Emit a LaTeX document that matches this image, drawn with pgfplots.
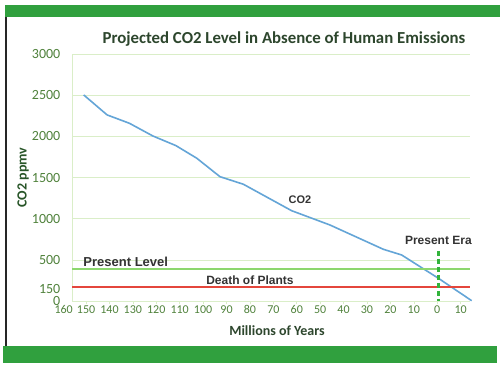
\documentclass[border=0pt]{standalone}
\usepackage{fontspec}
\setmainfont{Carlito}
\newfontfamily\arialfont{Liberation Sans}
\usepackage{pgfplots}
\pgfplotsset{compat=1.18}
\definecolor{barg}{RGB}{48,160,62}
\definecolor{gridg}{RGB}{218,238,200}
\definecolor{tickg}{RGB}{80,130,60}
\definecolor{titleg}{RGB}{45,70,45}
\definecolor{labg}{RGB}{40,85,40}
\definecolor{co2blue}{RGB}{100,165,215}
\definecolor{presentgreen}{RGB}{140,215,110}
\definecolor{deathred}{RGB}{228,70,60}
\definecolor{eragreen}{RGB}{50,180,60}
\begin{document}
\begin{tikzpicture}[x=1pt,y=1pt]
\useasboundingbox (0,0) rectangle (500,368);
\fill[white] (0,0) rectangle (500,368);
\fill[barg] (5,351) rectangle (500,363);
\fill[barg] (3,5) rectangle (497,22);
\draw[black!85, line width=1.6pt] (6,22) -- (6,351);
\node[font=\bfseries\fontsize{16.8}{16.8}\selectfont, text=titleg] at (284,329) {Projected CO2 Level in Absence of Human Emissions};
\begin{axis}[
  at={(72pt,67pt)}, anchor=south west, scale only axis,
  width=398pt, height=247pt,
  xmin=-156, xmax=14, ymin=0, ymax=3000,
  axis x line=bottom, axis y line=left,
  axis line style={draw=gridg, line width=0.8pt, -},
  xtick={-150,-140,...,10},
  xticklabels={150,140,130,120,110,100,90,80,70,60,50,40,30,20,10,0,10},
  ytick={0,500,1000,1500,2000,2500,3000},
  extra y ticks={150},
  extra y tick style={grid=none},
  ymajorgrids, major grid style={draw=gridg, line width=0.6pt},
  ytick style={draw=none},
  xtick style={draw=gridg, line width=0.6pt},
  tick align=outside, major tick length=3pt,
  /pgf/number format/assume math mode=true,
  /pgf/number format/1000 sep={},
  yticklabel style={font=\fontsize{14}{14}\selectfont, text=tickg, inner sep=0.5pt, xshift=-8pt},
  xticklabel style={font=\fontsize{12}{12}\selectfont, text=tickg, inner sep=0.5pt, yshift=-1pt},
  xlabel={Millions of Years},
  xlabel style={font=\bfseries\fontsize{14}{14}\selectfont, text=titleg, yshift=-8pt, xshift=6pt},
  ylabel={CO2 ppmv},
  ylabel style={font=\bfseries\fontsize{14}{14}\selectfont, text=labg, yshift=-7pt},
  clip=false,
]
\addplot[color=co2blue, line width=1.6pt] coordinates {
 (-151,2503) (-141,2260) (-131.5,2159) (-121.5,2005) (-111.6,1887)
 (-102.7,1734) (-92.8,1510) (-82.8,1418) (-62.2,1097) (-45.8,923)
 (-23,628) (-15.2,559) (0.5,276) (14.7,4)
};
\addplot[color=presentgreen, line width=2pt] coordinates {(-156,385) (-100,385) (14,385)};
\addplot[color=deathred, line width=2pt] coordinates {(-156,166) (-100,166) (14,166)};
\addplot[color=eragreen, line width=2.2pt, dash pattern=on 5pt off 3pt] coordinates {(0.5,610) (0.5,0)};
\node[font=\arialfont\bfseries\fontsize{11}{11}\selectfont, text=black!80] at (axis cs:-58.6,1230) {CO2};
\node[font=\arialfont\bfseries\fontsize{13}{13}\selectfont, text=black!80, anchor=base west] at (axis cs:-152.6,425) {Present Level};
\node[font=\arialfont\bfseries\fontsize{12}{12}\selectfont, text=black!80, anchor=base] at (axis cs:-80,196) {Death of Plants};
\node[font=\arialfont\bfseries\fontsize{12}{12}\selectfont, text=black!80] at (axis cs:0.5,740) {Present Era};
\node[font=\fontsize{12}{12}\selectfont, text=tickg, anchor=north, inner sep=0.5pt] at (axis cs:-160,0) [yshift=-4pt, xshift=1pt] {160};
\end{axis}
\end{tikzpicture}
\end{document}
